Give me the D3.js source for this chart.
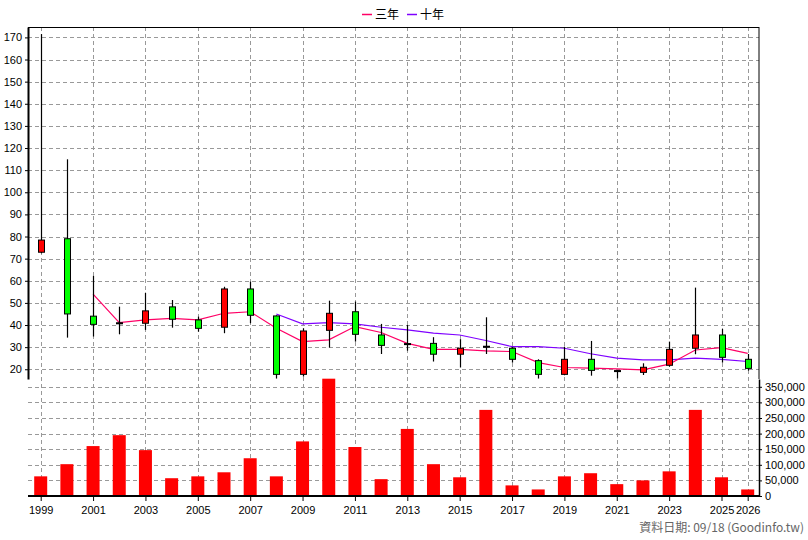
<!DOCTYPE html>
<html><head><meta charset="utf-8">
<script src="https://cdn.jsdelivr.net/npm/d3@7"></script>
<style>body{margin:0;background:#fff}svg{font-family:"Liberation Sans",Arial,sans-serif}</style>
</head><body><svg id="c" width="808" height="540"></svg>
<script>
var years = d3.range(1999, 2027);
var open  = [72.9, 79, 44, 41, 40.8, 48.2, 42.3, 39, 56.3, 44.1, 17.7, 37.6, 46, 35.5, 31.2, 31.7, 26.8, 30.4, 29.5, 23.9, 17.7, 24.5, 19.4, 18.6, 21.8, 29.5, 35.5, 24.5];
var close = [78.4, 45, 40.3, 40.8, 46.4, 42.6, 38.5, 56.3, 44.4, 17.7, 37.3, 45.3, 35.8, 30.8, 31.6, 26.8, 29.5, 30.2, 24.5, 17.7, 24.5, 19.5, 19.2, 20.9, 29, 35.5, 25.4, 20.4];
var high  = [171.5, 114.9, 62.2, 48.3, 54.6, 51.3, 43.8, 57.3, 59.6, 44.4, 38.5, 51, 50.6, 40.5, 40, 34.5, 33.6, 43.5, 30, 24.5, 30.2, 32.8, 19.6, 22.7, 32.5, 56.9, 38.2, 26.9];
var low   = [72.4, 34.3, 34.8, 35.8, 37.8, 38.8, 37, 36.3, 40.8, 15.8, 16.7, 29.8, 32.5, 26.9, 28.4, 23.5, 20.8, 26.9, 23, 15.8, 17.3, 17.1, 15.9, 17.4, 21.2, 26.8, 23, 19.4];
var ma3   = [null, null, 54, 41.1, 42.3, 43, 42.3, 45.3, 46, 38.5, 32.5, 33.3, 39.3, 36.6, 31.7, 29, 29, 28.3, 28, 23, 20.8, 20.5, 20.2, 19.7, 22.3, 28.7, 29.8, 27.2];
var ma10  = [null, null, null, null, null, null, null, null, null, 45, 40.5, 41.1, 40.5, 39, 37.8, 36.3, 35.5, 33, 30.2, 30.2, 29.5, 27, 25, 24.2, 24.2, 25, 24.5, 23.5];
var volume = [63000, 102000, 160000, 195000, 147000, 57000, 63000, 76000, 121000, 63000, 175000, 376000, 157000, 54000, 215000, 102000, 60000, 276000, 34000, 21000, 63000, 73000, 38000, 50000, 79000, 276000, 60000, 21000];
var priceTicks = d3.range(20, 171, 10);
var volTicks = d3.range(0, 350001, 50000);
var yearTicks = [1999, 2001, 2003, 2005, 2007, 2009, 2011, 2013, 2015, 2017, 2019, 2021, 2023, 2025, 2026];

var svg = d3.select('#c');
var L = 28, R = 759, T = 27, MID = 379, B = 496;
var x = d3.scaleLinear().domain([1999, 2026]).range([40.7, 747.7]);
var y = d3.scaleLinear().domain([15.6, 174.7]).range([MID, T]);
var yv = d3.scaleLinear().domain([0, 375000]).range([B, MID]);
var grid = {stroke: '#999', 'stroke-dasharray': '4,3', 'stroke-width': 1};
function g(sel, a) { for (var k in a) sel.attr(k, a[k]); return sel; }

// grids
g(svg.append('g').selectAll('line').data(priceTicks).enter().append('line')
  .attr('x1', L).attr('x2', R).attr('y1', function (d) { return Math.round(y(d)) + .5; }).attr('y2', function (d) { return Math.round(y(d)) + .5; }), grid);
g(svg.append('g').selectAll('line').data(volTicks.slice(1)).enter().append('line')
  .attr('x1', L).attr('x2', R).attr('y1', function (d) { return Math.round(yv(d)) + .5; }).attr('y2', function (d) { return Math.round(yv(d)) + .5; }), grid);
g(svg.append('g').selectAll('line').data(yearTicks).enter().append('line')
  .attr('y1', T).attr('y2', B).attr('x1', function (d) { return Math.round(x(d)) + .5; }).attr('x2', function (d) { return Math.round(x(d)) + .5; }), grid);

// volume bars
svg.append('g').selectAll('rect').data(years).enter().append('rect')
  .attr('x', function (d) { return x(d) - 6.5; }).attr('width', 13)
  .attr('y', function (d, i) { return yv(volume[i]); }).attr('height', function (d, i) { return B - yv(volume[i]); })
  .attr('fill', '#ff0000');

// MA lines
function maLine(arr, col) {
  var line = d3.line().defined(function (d, i) { return arr[i] != null; })
    .x(function (d) { return x(d); }).y(function (d, i) { return y(arr[i]); });
  svg.append('path').datum(years).attr('d', line).attr('fill', 'none').attr('stroke', col).attr('stroke-width', 1.2);
}
maLine(ma10, '#7f00ff');
maLine(ma3, '#ff0066');

// candles
var cg = svg.append('g');
cg.selectAll('line').data(years).enter().append('line')
  .attr('x1', function (d) { return Math.round(x(d)) + .5; }).attr('x2', function (d) { return Math.round(x(d)) + .5; })
  .attr('y1', function (d, i) { return y(high[i]); }).attr('y2', function (d, i) { return y(low[i]); })
  .attr('stroke', '#000').attr('stroke-width', 1.2);
cg.selectAll('rect').data(years).enter().append('rect')
  .attr('x', function (d) { return Math.round(x(d)) - 2.5; }).attr('width', 6)
  .attr('y', function (d, i) { return y(Math.max(open[i], close[i])); })
  .attr('height', function (d, i) { return Math.max(1, Math.abs(y(open[i]) - y(close[i]))); })
  .attr('fill', function (d, i) { return close[i] > open[i] + 0.3 ? '#ff0000' : (open[i] > close[i] + 0.3 ? '#00ff00' : '#000'); })
  .attr('stroke', '#000').attr('stroke-width', 1);

// axes
var ax = svg.append('g').attr('font-size', 11);
ax.append('g').attr('transform', 'translate(' + L + ',0)')
  .call(d3.axisLeft(y).tickValues(priceTicks).tickSize(3).tickSizeOuter(0))
  .call(function (s) { s.select('.domain').attr('stroke-width', 2); s.selectAll('text').attr('fill', '#000').attr('font-size', 11); });
ax.append('g').attr('transform', 'translate(' + R + ',0)')
  .call(d3.axisRight(yv).tickValues(volTicks).tickSize(3).tickSizeOuter(0).tickFormat(d3.format(',')))
  .call(function (s) { s.select('.domain').attr('stroke-width', 1.5); s.selectAll('text').attr('fill', '#000').attr('font-size', 11); });
ax.append('g').attr('transform', 'translate(0,' + B + ')')
  .call(d3.axisBottom(x).tickValues(yearTicks).tickSize(5).tickSizeOuter(0).tickFormat(d3.format('d')))
  .call(function (s) { s.select('.domain').attr('d', 'M' + L + ',0H' + R).attr('stroke-width', 2); s.selectAll('text').attr('fill', '#000').attr('font-size', 11).attr('dy', '0.9em'); });
svg.append('line').attr('x1', L).attr('x2', R).attr('y1', T + .5).attr('y2', T + .5).attr('stroke', '#000');
svg.append('line').attr('x1', R).attr('x2', R).attr('y1', T).attr('y2', MID).attr('stroke', '#000');

// legend
var leg = [['三年', '#ff0066', 362], ['十年', '#7f00ff', 407]];
leg.forEach(function (l) {
  svg.append('line').attr('x1', l[2]).attr('x2', l[2] + 10).attr('y1', 14.5).attr('y2', 14.5).attr('stroke', l[1]).attr('stroke-width', 1.5);
  svg.append('text').attr('x', l[2] + 13).attr('y', 19).attr('font-size', 12).attr('font-family', 'Noto Sans CJK TC').text(l[0]);
});
svg.append('text').attr('x', 804).attr('y', 532).attr('text-anchor', 'end').attr('font-size', 12).attr('fill', '#666')
  .attr('font-family', '"Noto Sans CJK TC",sans-serif').text('資料日期: 09/18  (Goodinfo.tw)');
</script></body></html>
